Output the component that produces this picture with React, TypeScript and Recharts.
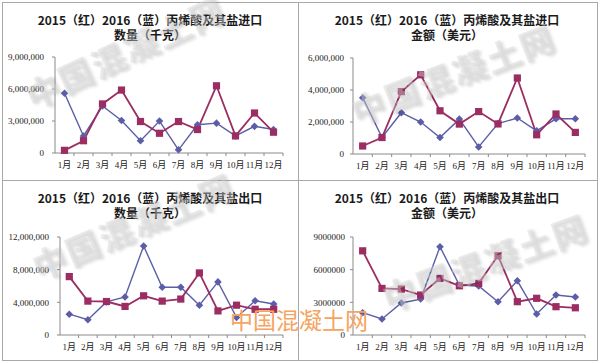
import { LineChart, Line, XAxis, YAxis } from "recharts";

const months = ["1月", "2月", "3月", "4月", "5月", "6月", "7月", "8月", "9月", "10月", "11月", "12月"];

// 进口数量（千克）
const importQty2015 = [250000, 1150000, 4600000, 5900000, 2950000, 1850000, 2950000, 2200000, 6300000, 1600000, 3750000, 1950000];
const importQty2016 = [5600000, 1600000, 4400000, 3050000, 1150000, 3000000, 300000, 2650000, 2800000, 1600000, 2500000, 2200000];
// 进口金额（美元）
const importAmt2015 = [500000, 1030000, 3900000, 4950000, 2700000, 1870000, 2650000, 1880000, 4750000, 1200000, 2500000, 1350000];
const importAmt2016 = [3520000, 1030000, 2580000, 2000000, 1030000, 2180000, 440000, 1900000, 2250000, 1450000, 2200000, 2200000];
// 出口数量（千克）
const exportQty2015 = [7150000, 4150000, 4100000, 3500000, 4800000, 4150000, 4400000, 7600000, 2950000, 3650000, 3150000, 3150000];
const exportQty2016 = [2550000, 1870000, 4050000, 4650000, 10900000, 5850000, 5850000, 3650000, 6500000, 2150000, 4200000, 3800000];
// 出口金额（美元）
const exportAmt2015 = [7730000, 4280000, 4220000, 3670000, 5200000, 4520000, 4740000, 7280000, 3060000, 3370000, 2600000, 2500000];
const exportAmt2016 = [2050000, 1470000, 2940000, 3300000, 8100000, 4590000, 4500000, 3060000, 4980000, 1930000, 3670000, 3490000];

const importQtyTicks = [0, 3000000, 6000000, 9000000];
const importAmtTicks = [0, 2000000, 4000000, 6000000];
const exportQtyTicks = [0, 4000000, 8000000, 12000000];
const exportAmtTicks = [0, 3000000, 6000000, 9000000];

const titleImport = "2015（红）2016（蓝）丙烯酸及其盐进口";
const titleExport = "2015（红）2016（蓝）丙烯酸及其盐出口";
const unitQty = "数量（千克）";
const unitAmt = "金额（美元）";
const watermark = "中国混凝土网";

const RED = "#9b2d62";
const BLUE = "#5b5ea6";
const AXIS = "#8a8a8a";
const LABEL_FONT = "'Liberation Serif', 'Noto Sans CJK SC', serif";
const TITLE_FONT = "'Noto Sans CJK SC', sans-serif";

const withCommas = (v: number) => v.toLocaleString("en-US");
const plain = (v: number) => String(v);

function Square(props: any) {
  const { cx, cy, index } = props;
  if (cx == null || cy == null) return <g key={`s-${index}`} />;
  return <rect key={`s-${index}`} x={cx - 3.6} y={cy - 3.6} width={7.2} height={7.2} fill={RED} />;
}

function Diamond(props: any) {
  const { cx, cy, index } = props;
  if (cx == null || cy == null) return <g key={`d-${index}`} />;
  const r = 3.8;
  return (
    <path
      key={`d-${index}`}
      d={`M${cx},${cy - r}L${cx + r},${cy}L${cx},${cy + r}L${cx - r},${cy}Z`}
      fill={BLUE}
    />
  );
}

type PanelProps = {
  left: number;
  top: number;
  title: string;
  unit: string;
  v2015: number[];
  v2016: number[];
  ticks: number[];
  fmt: (v: number) => string;
  plotLeft: number;
  plotRight: number;
  plotTop: number;
  plotBottom: number;
  labelGap: number;
  titleX: number;
  titleY: number;
};

function Panel(p: PanelProps) {
  const W = 300;
  const H = 181;
  const half = (p.plotRight - p.plotLeft) / 24;
  const data = months.map((m, i) => ({ month: m, y2015: p.v2015[i], y2016: p.v2016[i] }));

  const renderXTick = (t: any) => {
    const { x, y, payload, index } = t;
    return (
      <g key={`xt-${index}`}>
        <line x1={x + half} x2={x + half} y1={y} y2={y + 3} stroke={AXIS} />
        <text
          x={x}
          y={y + 15}
          textAnchor="middle"
          fontSize={9}
          fill="#222"
          fontFamily={LABEL_FONT}
        >
          {payload.value}
        </text>
      </g>
    );
  };

  return (
    <div style={{ position: "absolute", left: p.left, top: p.top, width: W, height: H }}>
      <div
        style={{
          position: "absolute",
          left: p.titleX - 150,
          width: 300,
          top: p.titleY,
          textAlign: "center",
          fontFamily: TITLE_FONT,
          fontWeight: 700,
          fontSize: 12,
          lineHeight: "14.5px",
          color: "#1a1a1a",
          whiteSpace: "nowrap",
        }}
      >
        <div>{p.title}</div>
        <div>{p.unit}</div>
      </div>
      <LineChart
        width={W}
        height={H}
        data={data}
        margin={{ top: p.plotTop, right: W - p.plotRight, bottom: 0, left: 0 }}
        style={{ position: "absolute", left: 0, top: 0 }}
      >
        <XAxis
          dataKey="month"
          height={H - p.plotBottom}
          padding={{ left: half, right: half }}
          interval={0}
          tickSize={0}
          tickMargin={0}
          tickLine={false}
          axisLine={{ stroke: AXIS }}
          tick={renderXTick}
        />
        <YAxis
          type="number"
          width={p.plotLeft}
          domain={[0, p.ticks[p.ticks.length - 1]]}
          ticks={p.ticks}
          interval={0}
          tickFormatter={p.fmt}
          tickSize={3}
          tickMargin={p.labelGap}
          axisLine={{ stroke: AXIS }}
          tickLine={{ stroke: AXIS }}
          tick={{ fontSize: 9, fill: "#222", fontFamily: LABEL_FONT }}
        />
        <Line
          dataKey="y2016"
          stroke={BLUE}
          strokeWidth={1.4}
          dot={Diamond}
          activeDot={false}
          isAnimationActive={false}
        />
        <Line
          dataKey="y2015"
          stroke={RED}
          strokeWidth={1.8}
          dot={Square}
          activeDot={false}
          isAnimationActive={false}
        />
      </LineChart>
    </div>
  );
}

function Watermark({ x, y, angle }: { x: number; y: number; angle: number }) {
  return (
    <div
      style={{
        position: "absolute",
        left: x - 140,
        top: y - 20,
        width: 280,
        height: 40,
        textAlign: "center",
        fontFamily: TITLE_FONT,
        fontWeight: 900,
        fontSize: 34,
        lineHeight: "40px",
        letterSpacing: 2,
        color: "rgba(215,215,215,0.45)",
        textShadow: "2px 2px 3px rgba(0,0,0,0.12)",
        transform: `rotate(${angle}deg)`,
        pointerEvents: "none",
        whiteSpace: "nowrap",
      }}
    >
      {watermark}
    </div>
  );
}

const line = (l: number, t: number, w: number, h: number) => (
  <div style={{ position: "absolute", left: l, top: t, width: w, height: h, background: "#a8a8a8" }} />
);

export default function App() {
  return (
    <div
      style={{
        position: "absolute",
        left: 0,
        top: 0,
        width: 600,
        height: 362,
        background: "#fff",
        overflow: "hidden",
      }}
    >
      <Panel
        left={0}
        top={0}
        title={titleImport}
        unit={unitQty}
        v2015={importQty2015}
        v2016={importQty2016}
        ticks={importQtyTicks}
        fmt={withCommas}
        plotLeft={55}
        plotRight={283}
        plotTop={57}
        plotBottom={153}
        labelGap={8}
        titleX={150}
        titleY={13}
      />
      <Panel
        left={300}
        top={0}
        title={titleImport}
        unit={unitAmt}
        v2015={importAmt2015}
        v2016={importAmt2016}
        ticks={importAmtTicks}
        fmt={withCommas}
        plotLeft={53}
        plotRight={285}
        plotTop={58}
        plotBottom={154}
        labelGap={6}
        titleX={147}
        titleY={13}
      />
      <Panel
        left={0}
        top={181}
        title={titleExport}
        unit={unitQty}
        v2015={exportQty2015}
        v2016={exportQty2016}
        ticks={exportQtyTicks}
        fmt={withCommas}
        plotLeft={60}
        plotRight={283}
        plotTop={56}
        plotBottom={154}
        labelGap={8}
        titleX={150}
        titleY={10}
      />
      <Panel
        left={300}
        top={181}
        title={titleExport}
        unit={unitAmt}
        v2015={exportAmt2015}
        v2016={exportAmt2016}
        ticks={exportAmtTicks}
        fmt={plain}
        plotLeft={53}
        plotRight={285}
        plotTop={56}
        plotBottom={154}
        labelGap={5}
        titleX={147}
        titleY={10}
      />

      {line(2, 2, 595, 1)}
      {line(2, 180, 595, 1)}
      {line(2, 360, 595, 1)}
      {line(2, 2, 1, 359)}
      {line(298, 2, 1, 359)}
      {line(597, 2, 1, 359)}

      <Watermark x={125} y={52} angle={-25} />
      <Watermark x={453} y={74} angle={-21} />
      <Watermark x={133} y={226} angle={-23} />
      <Watermark x={485} y={262} angle={-20} />

      <div
        style={{
          position: "absolute",
          left: 230,
          top: 308,
          fontFamily: TITLE_FONT,
          fontSize: 23,
          lineHeight: "22px",
          color: "#f5a461",
          whiteSpace: "nowrap",
        }}
      >
        {watermark}
      </div>
    </div>
  );
}
